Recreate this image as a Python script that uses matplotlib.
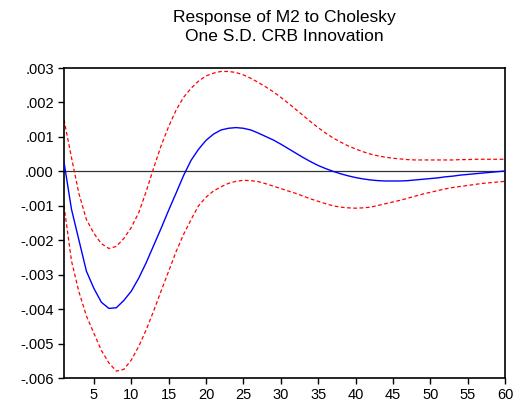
import matplotlib
matplotlib.use("Agg")
import matplotlib.pyplot as plt
from matplotlib.ticker import FixedLocator

periods = list(range(1, 61))

response = [0.00027, -0.0011, -0.0020, -0.0029, -0.0034, -0.0038, -0.00398, -0.00396, -0.00375, -0.00348,
            -0.0031, -0.00265, -0.00215, -0.00165, -0.00113, -0.00063, -0.00012, 0.00032, 0.00064, 0.0009,
            0.00108, 0.0012, 0.00125, 0.00127, 0.00125, 0.0012, 0.00111, 0.00101, 0.00091, 0.00079,
            0.00066, 0.00053, 0.0004, 0.00028, 0.00017, 0.00008, 0.0, -0.00007, -0.00013, -0.00018,
            -0.00022, -0.00025, -0.00027, -0.00028, -0.00028, -0.00028, -0.00027, -0.00025, -0.00023, -0.00021,
            -0.00019, -0.00016, -0.00014, -0.00011, -0.00009, -0.00007, -0.00005, -0.00003, -0.00001, 0.00001]

upper = [0.0015, 0.0004, -0.00065, -0.0014, -0.0018, -0.0021, -0.00224, -0.00218, -0.00195, -0.00163,
         -0.0012, -0.00058, 0.0001, 0.00075, 0.0013, 0.00178, 0.00215, 0.00241, 0.00262, 0.00277,
         0.00285, 0.0029, 0.0029, 0.00287, 0.0028, 0.0027, 0.00258, 0.00245, 0.00231, 0.00215,
         0.00198, 0.0018, 0.00162, 0.00144, 0.00127, 0.00111, 0.00097, 0.00085, 0.00074, 0.00065,
         0.00057, 0.0005, 0.00045, 0.00041, 0.00038, 0.00036, 0.00034, 0.00033, 0.00033, 0.00033,
         0.00033, 0.00033, 0.00033, 0.00034, 0.00034, 0.00035, 0.00035, 0.00035, 0.00035, 0.00035]

lower = [-0.001, -0.0026, -0.0035, -0.0042, -0.0047, -0.0052, -0.00556, -0.0058, -0.00575, -0.00548,
         -0.00508, -0.0046, -0.00405, -0.00347, -0.0029, -0.00233, -0.00183, -0.0014, -0.001, -0.00075,
         -0.00057, -0.00045, -0.00035, -0.00029, -0.00026, -0.00027, -0.0003, -0.00036, -0.00043, -0.0005,
         -0.00057, -0.00064, -0.00072, -0.0008, -0.00087, -0.00094, -0.001, -0.00104, -0.00106, -0.00107,
         -0.00106, -0.00104, -0.00099, -0.00094, -0.00089, -0.00084, -0.00078, -0.00072, -0.00066, -0.00061,
         -0.00056, -0.00051, -0.00047, -0.00044, -0.00041, -0.00038, -0.00035, -0.00033, -0.00031, -0.00029]

x_ticks = [5, 10, 15, 20, 25, 30, 35, 40, 45, 50, 55, 60]
y_ticks = [0.003, 0.002, 0.001, 0.0, -0.001, -0.002, -0.003, -0.004, -0.005, -0.006]
y_tick_labels = [".003", ".002", ".001", ".000", "-.001", "-.002", "-.003", "-.004", "-.005", "-.006"]
title = "Response of M2 to Cholesky\nOne S.D. CRB Innovation"

plt.rcParams['font.family'] = ['Liberation Sans', 'DejaVu Sans']

fig = plt.figure(figsize=(5.25, 4.07), dpi=100)
ax = fig.add_axes([64/525, 1 - 378/407, 441/525, 310/407])

ax.axhline(0, color="#333333", lw=0.9, zorder=1)
ax.plot(periods, upper, color="#ff0000", lw=0.9, dashes=(3, 2), zorder=2)
ax.plot(periods, lower, color="#ff0000", lw=0.9, dashes=(3, 2), zorder=2)
ax.plot(periods, response, color="#0000ff", lw=1.0, zorder=3)

ax.set_xlim(1, 60)
ax.set_ylim(-0.006, 0.003)
ax.xaxis.set_major_locator(FixedLocator(x_ticks))
ax.set_xticklabels([str(t) for t in x_ticks])
ax.yaxis.set_major_locator(FixedLocator(y_ticks))
ax.set_yticklabels(y_tick_labels)
ax.tick_params(direction="out", length=4.3, width=1, labelsize=10.5, colors="black", pad=3)
for s in ax.spines.values():
    s.set_linewidth(1.2)
    s.set_color("black")

fig.text(284/525, 1 - 10/407, title, ha="center", va="top", fontsize=12.5, linespacing=1.35)

fig.savefig("out.png", dpi=100)
